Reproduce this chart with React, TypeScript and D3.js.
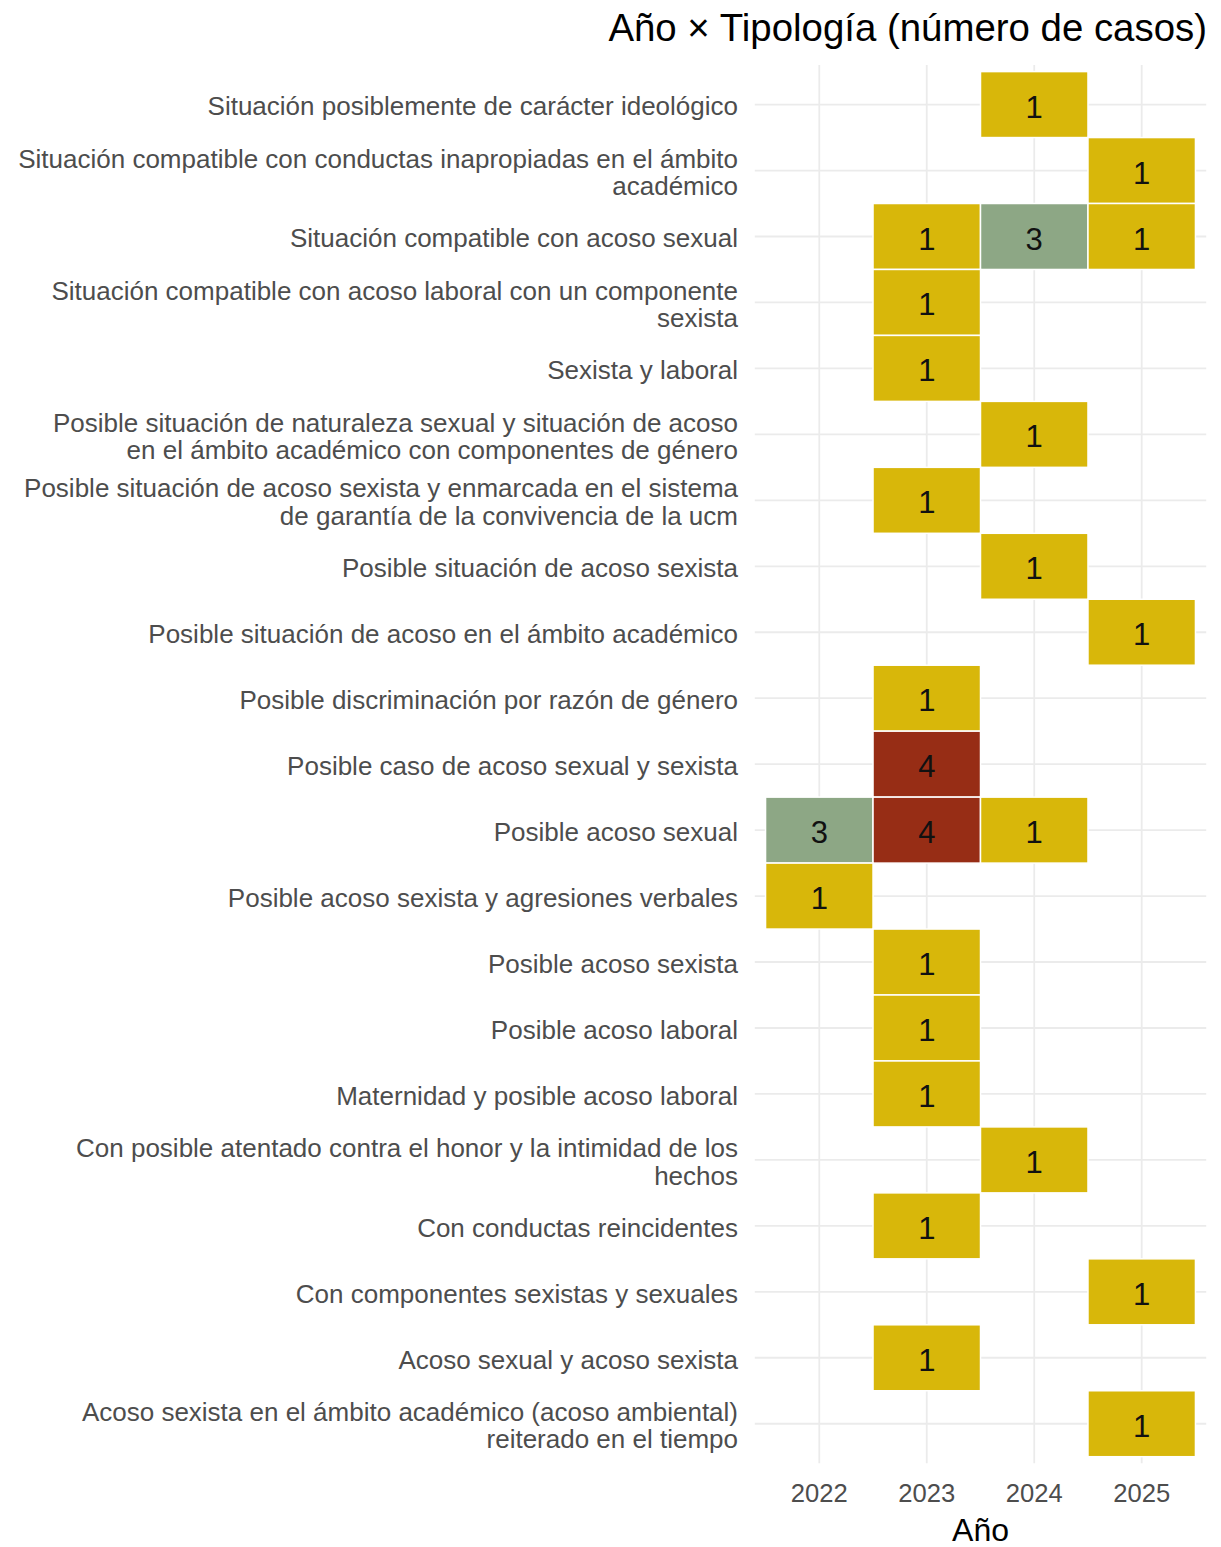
import React from "react";
import * as d3 from "d3";

// ---- data ----
const tipologias: string[] = [
  "Situación posiblemente de carácter ideológico",
  "Situación compatible con conductas inapropiadas en el ámbito académico",
  "Situación compatible con acoso sexual",
  "Situación compatible con acoso laboral con un componente sexista",
  "Sexista y laboral",
  "Posible situación de naturaleza sexual y situación de acoso en el ámbito académico con componentes de género",
  "Posible situación de acoso sexista y enmarcada en el sistema de garantía de la convivencia de la ucm",
  "Posible situación de acoso sexista",
  "Posible situación de acoso en el ámbito académico",
  "Posible discriminación por razón de género",
  "Posible caso de acoso sexual y sexista",
  "Posible acoso sexual",
  "Posible acoso sexista y agresiones verbales",
  "Posible acoso sexista",
  "Posible acoso laboral",
  "Maternidad y posible acoso laboral",
  "Con posible atentado contra el honor y la intimidad de los hechos",
  "Con conductas reincidentes",
  "Con componentes sexistas y sexuales",
  "Acoso sexual y acoso sexista",
  "Acoso sexista en el ámbito académico (acoso ambiental) reiterado en el tiempo",
];

const anios: string[] = ["2022", "2023", "2024", "2025"];

// [tipología index, año, número de casos]
const casos: [number, string, number][] = [
  [0, "2024", 1],
  [1, "2025", 1],
  [2, "2023", 1],
  [2, "2024", 3],
  [2, "2025", 1],
  [3, "2023", 1],
  [4, "2023", 1],
  [5, "2024", 1],
  [6, "2023", 1],
  [7, "2024", 1],
  [8, "2025", 1],
  [9, "2023", 1],
  [10, "2023", 4],
  [11, "2022", 3],
  [11, "2023", 4],
  [11, "2024", 1],
  [12, "2022", 1],
  [13, "2023", 1],
  [14, "2023", 1],
  [15, "2023", 1],
  [16, "2024", 1],
  [17, "2023", 1],
  [18, "2025", 1],
  [19, "2023", 1],
  [20, "2025", 1],
];

const paleta: string[] = ["#D8B70A", "#02401B", "#A2A475", "#81A88D", "#972D15"];

const titulo = "Año × Tipología (número de casos)";
const tituloX = "Año";

function wrap(s: string, width: number): string[] {
  const words = s.split(" ");
  const lines: string[] = [];
  let cur = "";
  for (const w of words) {
    if (cur.length === 0) cur = w;
    else if (cur.length + 1 + w.length <= width) cur += " " + w;
    else {
      lines.push(cur);
      cur = w;
    }
  }
  if (cur) lines.push(cur);
  return lines;
}

export default function App() {
  const W = 1221;
  const H = 1547;
  const left = 754.8;
  const right = 1206.2;
  const top = 65;
  const bottom = 1463.3;
  const font = "'Liberation Sans', Arial, sans-serif";

  const x = d3.scaleBand<string>().domain(anios).range([left, right]).paddingInner(0).paddingOuter(0.1);
  const y = d3
    .scaleBand<string>()
    .domain(tipologias.map((_, i) => String(i)))
    .range([top, bottom])
    .paddingInner(0)
    .paddingOuter(0.1);

  const maxN = d3.max(casos, (d) => d[2]) as number;
  const minN = d3.min(casos, (d) => d[2]) as number;
  const color = d3
    .scaleLinear<string>()
    .domain(paleta.map((_, i) => minN + ((maxN - minN) * i) / (paleta.length - 1)))
    .range(paleta)
    .interpolate(d3.interpolateLab);

  const bw = x.bandwidth();
  const bh = y.bandwidth();
  const lineH = 27.5;

  return (
    <svg width={W} height={H} style={{ position: "absolute", left: 0, top: 0, background: "#fff" }}>
      <rect x={0} y={0} width={W} height={H} fill="#fff" />
      {/* grid */}
      {tipologias.map((_, i) => {
        const cy = (y(String(i)) as number) + bh / 2;
        return <line key={"gy" + i} x1={left} x2={right} y1={cy} y2={cy} stroke="#EBEBEB" strokeWidth={1.8} />;
      })}
      {anios.map((a) => {
        const cx = (x(a) as number) + bw / 2;
        return <line key={"gx" + a} x1={cx} x2={cx} y1={top} y2={bottom} stroke="#EBEBEB" strokeWidth={1.8} />;
      })}
      {/* tiles */}
      {casos.map(([t, a, n], i) => (
        <rect
          key={"r" + i}
          x={x(a) as number}
          y={y(String(t)) as number}
          width={bw}
          height={bh}
          fill={color(n)}
          stroke="#fff"
          strokeWidth={1.5}
        />
      ))}
      {casos.map(([t, a, n], i) => (
        <text
          key={"t" + i}
          x={(x(a) as number) + bw / 2}
          y={(y(String(t)) as number) + bh / 2}
          dy="0.42em"
          textAnchor="middle"
          fontFamily={font}
          fontSize={31}
          fill="#111"
        >
          {n}
        </text>
      ))}
      {/* y labels */}
      {tipologias.map((s, i) => {
        const lines = wrap(s, 60);
        const cy = (y(String(i)) as number) + bh / 2;
        const start = cy - ((lines.length - 1) * lineH) / 2;
        return (
          <text key={"yl" + i} textAnchor="end" fontFamily={font} fontSize={26} fill="#4D4D4D">
            {lines.map((l, j) => (
              <tspan key={j} x={738} y={start + j * lineH} dy="0.42em">
                {l}
              </tspan>
            ))}
          </text>
        );
      })}
      {/* x labels */}
      {anios.map((a) => (
        <text
          key={"xl" + a}
          x={(x(a) as number) + bw / 2}
          y={1502}
          textAnchor="middle"
          fontFamily={font}
          fontSize={25.6}
          fill="#4D4D4D"
        >
          {a}
        </text>
      ))}
      <text x={(left + right) / 2} y={1541} textAnchor="middle" fontFamily={font} fontSize={32} fill="#000">
        {tituloX}
      </text>
      <text x={1207} y={41} textAnchor="end" fontFamily={font} fontSize={38.4} fill="#000">
        {titulo}
      </text>
    </svg>
  );
}
